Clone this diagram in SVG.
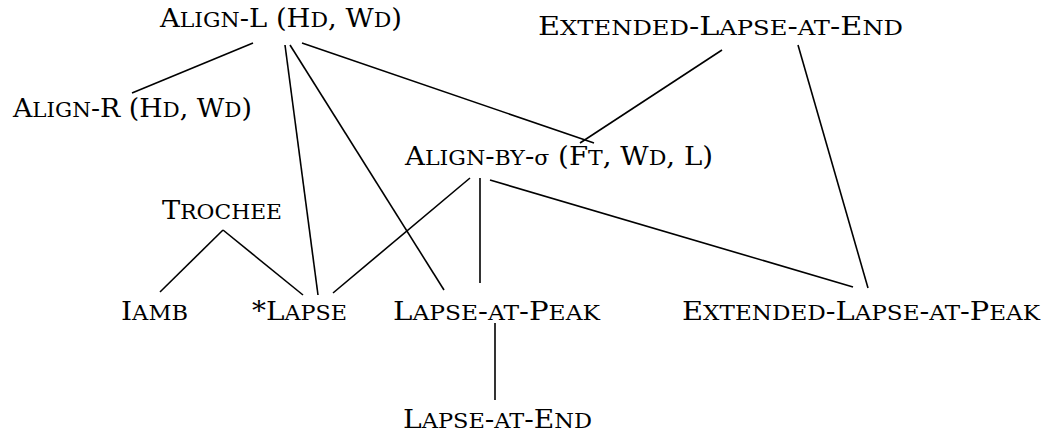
<svg xmlns="http://www.w3.org/2000/svg" width="1045" height="434" viewBox="0 0 1045 434">
<style>
text{font-family:"DejaVu Serif","Liberation Serif",serif;font-size:26.5px;fill:#000}
.s{font-size:21.2px}
line{stroke:#000;stroke-width:1.6;fill:none}
</style>
<rect width="1045" height="434" fill="#fff"/>
<g id="connectors">
<line x1="253" y1="43" x2="132" y2="93"/>
<line x1="285" y1="45" x2="318" y2="295"/>
<line x1="290" y1="45" x2="444" y2="290"/>
<line x1="302" y1="43" x2="594" y2="143"/>
<line x1="722" y1="50" x2="580" y2="143"/>
<line x1="798" y1="45" x2="868" y2="288"/>
<line x1="470" y1="178" x2="333" y2="293"/>
<line x1="480" y1="178" x2="480" y2="283"/>
<line x1="490" y1="180" x2="853" y2="287"/>
<line x1="223" y1="230" x2="160" y2="292"/>
<line x1="223" y1="230" x2="303" y2="295"/>
<line x1="495" y1="323" x2="495" y2="400"/>
</g>
<g id="align-l"><text x="160" y="27" textLength="242" lengthAdjust="spacingAndGlyphs">A<tspan class="s">LIGN</tspan>-L (H<tspan class="s">D</tspan>, W<tspan class="s">D</tspan>)</text></g>
<g id="align-r"><text x="13" y="117" textLength="239" lengthAdjust="spacingAndGlyphs">A<tspan class="s">LIGN</tspan>-R (H<tspan class="s">D</tspan>, W<tspan class="s">D</tspan>)</text></g>
<g id="ext-end"><text x="538" y="35" textLength="365" lengthAdjust="spacingAndGlyphs">E<tspan class="s">XTENDED</tspan>-L<tspan class="s">APSE</tspan>-<tspan class="s">AT</tspan>-E<tspan class="s">ND</tspan></text></g>
<g id="align-by"><text x="405" y="165" textLength="308" lengthAdjust="spacingAndGlyphs">A<tspan class="s">LIGN</tspan>-<tspan class="s">BY</tspan>-<tspan class="s">σ</tspan> (F<tspan class="s">T</tspan>, W<tspan class="s">D</tspan>, L)</text></g>
<g id="trochee"><text x="162" y="219" textLength="120" lengthAdjust="spacingAndGlyphs">T<tspan class="s">ROCHEE</tspan></text></g>
<g id="iamb"><text x="121" y="320" textLength="67" lengthAdjust="spacingAndGlyphs">I<tspan class="s">AMB</tspan></text></g>
<g id="lapse"><text x="252" y="320" textLength="95" lengthAdjust="spacingAndGlyphs">*L<tspan class="s">APSE</tspan></text></g>
<g id="lapse-peak"><text x="393" y="320" textLength="207" lengthAdjust="spacingAndGlyphs">L<tspan class="s">APSE</tspan>-<tspan class="s">AT</tspan>-P<tspan class="s">EAK</tspan></text></g>
<g id="ext-peak"><text x="682" y="320" textLength="358" lengthAdjust="spacingAndGlyphs">E<tspan class="s">XTENDED</tspan>-L<tspan class="s">APSE</tspan>-<tspan class="s">AT</tspan>-P<tspan class="s">EAK</tspan></text></g>
<g id="lapse-end"><text x="403" y="428" textLength="189" lengthAdjust="spacingAndGlyphs">L<tspan class="s">APSE</tspan>-<tspan class="s">AT</tspan>-E<tspan class="s">ND</tspan></text></g>
</svg>
